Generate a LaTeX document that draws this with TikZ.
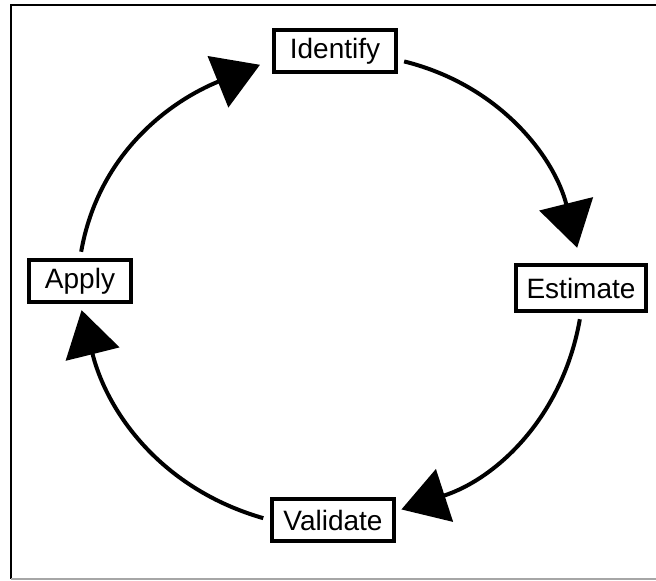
\documentclass[tikz,border=0pt]{standalone}
\usepackage{fontspec}
\setmainfont{Liberation Sans}
\usetikzlibrary{arrows.meta}
\tikzstyle{stage} = [rectangle, draw=black, line width=3pt, fill=white, minimum height=31pt, inner xsep=6pt, inner ysep=0pt, text centered, font=\fontsize{21}{25}\selectfont]
\tikzstyle{arrow} = [line width=3pt, -{Triangle[length=34pt,width=41pt]}, shorten <=5pt]

\begin{document}
\begin{tikzpicture}[x=0.75pt,y=0.75pt]
\useasboundingbox (0,0) rectangle (656,581);

%frame
\draw [line width=1.5pt] (11,2) -- (11,576) -- (656,576);
\draw [line width=1.5pt, gray!70] (11,2) -- (656,2);

\node (identify) [stage, minimum width=91pt] at (335,530) {Identify};
\node (estimate) [stage, minimum width=97pt, minimum height=34pt] at (581,293) {Estimate};
\node (validate) [stage, minimum width=92pt] at (333,61) {Validate};
\node (apply) [stage, minimum width=76pt] at (80,300) {Apply};

%arrows
\draw [arrow, shorten >=12pt] (identify.-8) to[out=-14, in=104] (estimate.north);
\draw [arrow, shorten >=4pt] (estimate.south) to[out=-100, in=18] (validate.8);
\draw [arrow, shorten >=5pt] (validate.west) to[out=164, in=-76] (apply.south);
\draw [arrow, shorten >=10pt] (apply.north) to[out=80, in=202] (identify.188);
\end{tikzpicture}
\end{document}
